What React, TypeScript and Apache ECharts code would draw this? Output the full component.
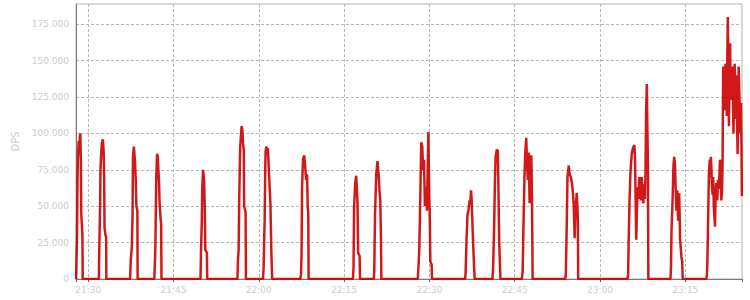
import React, { useEffect, useRef } from 'react';
import * as echarts from 'echarts';

// Times are minutes counted from 21:00, values are DPS.
const HOUR_BASE = 21;
const X_MIN = 27.85;
const X_MAX = 144.98;
const X_STEP = 15;
const Y_MAX = 189000;
const Y_STEP = 25000;
const Y_NAME = 'DPS';

const burst01 = [[27.87,0],[27.94,15000],[28.03,30000],[28.12,70000],[28.22,88000],[28.33,95000],[28.43,85000],[28.52,98000],[28.61,100000],[28.70,82000],[28.77,45000],[28.87,38000],[28.98,30000],[29.03,0]];
const burst02 = [[31.87,0],[31.95,22000],[32.09,50000],[32.15,75000],[32.27,85000],[32.39,93000],[32.57,96000],[32.71,88000],[32.80,70000],[32.87,35000],[33.04,30000],[33.15,29000],[33.19,0]];
const burst03 = [[37.36,0],[37.48,13000],[37.67,22000],[37.80,45000],[37.87,84000],[38.03,91000],[38.20,82000],[38.36,68000],[38.47,50000],[38.64,47000],[38.69,0]];
const burst04 = [[41.62,0],[41.72,10000],[41.81,22000],[41.97,70000],[42.11,86000],[42.23,84000],[42.34,75000],[42.44,68000],[42.55,52000],[42.76,40000],[42.83,38000],[42.88,0]];
const burst05 = [[49.75,0],[49.84,20000],[49.98,40000],[50.06,63000],[50.20,75000],[50.38,68000],[50.49,50000],[50.59,20000],[50.87,18000],[50.93,0]];
const burst06 = [[56.24,0],[56.35,14000],[56.45,20000],[56.56,56000],[56.72,90000],[56.88,100000],[56.98,105000],[57.12,102000],[57.24,93000],[57.37,88000],[57.42,50000],[57.67,46000],[57.74,0]];
const burst07 = [[60.73,0],[60.85,8000],[60.96,30000],[61.03,40000],[61.13,75000],[61.20,88000],[61.34,91000],[61.47,86000],[61.60,90000],[61.74,77000],[61.88,65000],[62.04,52000],[62.21,18000],[62.35,0]];
const burst08 = [[67.29,0],[67.42,3000],[67.51,15000],[67.61,63000],[67.77,82000],[67.98,85000],[68.16,77000],[68.33,68000],[68.49,72000],[68.60,50000],[68.70,45000],[68.76,0]];
const burst09 = [[76.55,0],[76.66,8000],[76.76,50000],[76.96,66000],[77.13,71000],[77.27,60000],[77.36,52000],[77.47,18000],[77.73,16000],[77.80,0]];
const burst10 = [[80.21,0],[80.30,5000],[80.44,44000],[80.65,72000],[80.88,81000],[81.00,75000],[81.13,68000],[81.23,60000],[81.36,54000],[81.48,30000],[81.55,0]];
const burst11 = [[87.96,0],[88.10,10000],[88.22,20000],[88.41,57000],[88.57,94000],[88.75,91000],[88.89,75000],[89.05,82000],[89.21,50000],[89.40,63000],[89.58,47000],[89.72,80000],[89.82,101000],[89.98,55000],[90.05,48000],[90.17,12000],[90.39,10000],[90.46,0]];
const burst12 = [[96.28,0],[96.37,4000],[96.53,27000],[96.70,44000],[96.90,48000],[97.07,54000],[97.20,52000],[97.32,61000],[97.43,55000],[97.51,45000],[97.69,25000],[97.90,5000],[97.97,0]];
const burst13 = [[101.10,0],[101.21,8000],[101.39,36000],[101.54,70000],[101.65,84000],[101.86,89000],[102.04,88000],[102.14,63000],[102.27,27000],[102.39,13000],[102.49,0]];
const burst14 = [[106.26,0],[106.40,5000],[106.52,31000],[106.72,70000],[106.88,88000],[107.03,97000],[107.18,79000],[107.32,68000],[107.46,87000],[107.63,52000],[107.81,82000],[107.93,85000],[108.06,50000],[108.16,0]];
const burst15 = [[113.92,0],[114.00,4000],[114.13,31000],[114.29,70000],[114.52,78000],[114.67,72000],[114.88,70000],[115.06,66000],[115.20,61000],[115.38,52000],[115.55,28000],[115.68,45000],[115.91,59000],[116.03,50000],[116.12,40000],[116.17,0]];
const burst16 = [[124.83,0],[124.95,3000],[125.04,24000],[125.20,54000],[125.36,73000],[125.59,86000],[125.80,90000],[126.06,92000],[126.18,80000],[126.27,55000],[126.38,27000],[126.50,47000],[126.64,63000],[126.78,55000],[126.92,70000],[127.06,60000],[127.20,54000],[127.35,70000],[127.49,58000],[127.63,52000],[127.77,65000],[127.91,55000],[128.01,75000],[128.12,116000],[128.24,134000],[128.35,100000],[128.44,77000],[128.51,0]];
const burst17 = [[132.40,0],[132.49,8000],[132.59,34000],[132.77,54000],[132.93,78000],[133.05,84000],[133.19,79000],[133.33,60000],[133.45,47000],[133.59,61000],[133.75,40000],[133.93,59000],[134.10,27000],[134.33,15000],[134.46,12000],[134.56,0]];
const burst18 = [[138.70,0],[138.81,3000],[138.89,11000],[138.98,31000],[139.07,52000],[139.17,73000],[139.31,82000],[139.40,70000],[139.51,84000],[139.61,75000],[139.70,63000],[139.81,58000],[139.91,70000],[140.02,50000],[140.14,42000],[140.23,36000],[140.33,55000],[140.44,66000],[140.55,60000],[140.63,54000],[140.76,68000],[140.88,62000],[140.99,70000],[141.11,82000],[141.21,75000],[141.34,54000],[141.46,60000],[141.57,82000],[141.67,146000],[141.78,125000],[141.88,116000],[141.99,138000],[142.09,148000],[142.20,130000],[142.31,112000],[142.39,150000],[142.48,180000],[142.57,155000],[142.68,105000],[142.78,140000],[142.89,162000],[142.97,135000],[143.06,123000],[143.17,140000],[143.27,146000],[143.38,125000],[143.48,100000],[143.59,130000],[143.70,148000],[143.80,120000],[143.91,110000],[144.01,140000],[144.12,105000],[144.21,86000],[144.31,120000],[144.40,146000],[144.49,130000],[144.59,118000],[144.70,100000],[144.80,121000],[144.89,90000],[144.96,57000]];

const bursts = [burst01, burst02, burst03, burst04, burst05, burst06, burst07, burst08, burst09, burst10, burst11, burst12, burst13, burst14, burst15, burst16, burst17, burst18];

const FONT = 'DejaVu Sans';
const LABEL_COLOR = '#cccccc';

function fmtThousands(v: number): string {
  return String(Math.round(v)).replace(/\B(?=(\d{3})+(?!\d))/g, '.');
}

export default function App() {
  const ref = useRef<HTMLDivElement>(null);
  useEffect(() => {
    if (!ref.current) return;
    const chart = echarts.init(ref.current, null, { renderer: 'svg' });
    const base = HOUR_BASE * 60;
    const data = bursts.flat().map(([m, v]) => [base + m, v]);
    chart.setOption({
      animation: false,
      backgroundColor: '#ffffff',
      grid: {
        left: 76,
        right: 8,
        top: 4,
        bottom: 21,
        show: true,
        borderColor: '#b4b4a6',
        borderWidth: 1,
        backgroundColor: 'transparent',
      },
      xAxis: {
        type: 'value',
        min: base + X_MIN,
        max: base + X_MAX,
        minInterval: X_STEP,
        maxInterval: X_STEP,
        splitNumber: 8,
        axisLine: { show: true, lineStyle: { color: '#7c7c6c', width: 1 } },
        axisTick: { show: true, length: 3, lineStyle: { color: '#666660' } },
        axisLabel: {
          color: LABEL_COLOR,
          fontFamily: FONT,
          fontSize: 9,
          margin: 6,
          showMinLabel: true,
          showMaxLabel: true,
          formatter: (v: number) => {
            const r = Math.round(v);
            if (Math.abs(v - r) > 1e-6 || r % X_STEP !== 0) return '';
            const h = Math.floor(r / 60);
            const mm = r % 60;
            return `${h}:${String(mm).padStart(2, '0')}`;
          },
        },
        splitLine: {
          show: true,
          showMinLine: false,
          showMaxLine: false,
          lineStyle: { color: '#b8b8ac', type: [3, 2], width: 1 },
        },
      },
      yAxis: {
        type: 'value',
        min: 0,
        max: Y_MAX,
        interval: Y_STEP,
        name: Y_NAME,
        nameLocation: 'middle',
        nameRotate: 90,
        nameGap: 49,
        nameTextStyle: { color: LABEL_COLOR, fontFamily: FONT, fontSize: 10 },
        axisLine: { show: true, lineStyle: { color: '#7c7c6c', width: 1 } },
        axisTick: { show: false },
        axisLabel: {
          color: LABEL_COLOR,
          fontFamily: FONT,
          fontSize: 9,
          margin: 7,
          showMaxLabel: false,
          formatter: (v: number) => (v % Y_STEP === 0 ? fmtThousands(v) : ''),
        },
        splitLine: {
          show: true,
          showMinLine: false,
          showMaxLine: false,
          lineStyle: { color: '#b8b8ac', type: [3, 2], width: 1 },
        },
      },
      series: [
        {
          type: 'line',
          data,
          showSymbol: false,
          symbol: 'none',
          lineStyle: { color: '#cc0000', width: 2.5, opacity: 0.9 },
          itemStyle: { color: '#cc0000' },
          clip: true,
        },
      ],
    });
    return () => chart.dispose();
  }, []);
  return (
    <div
      ref={ref}
      style={{ position: 'fixed', left: 0, top: 0, width: 750, height: 300, background: '#fff' }}
    />
  );
}
